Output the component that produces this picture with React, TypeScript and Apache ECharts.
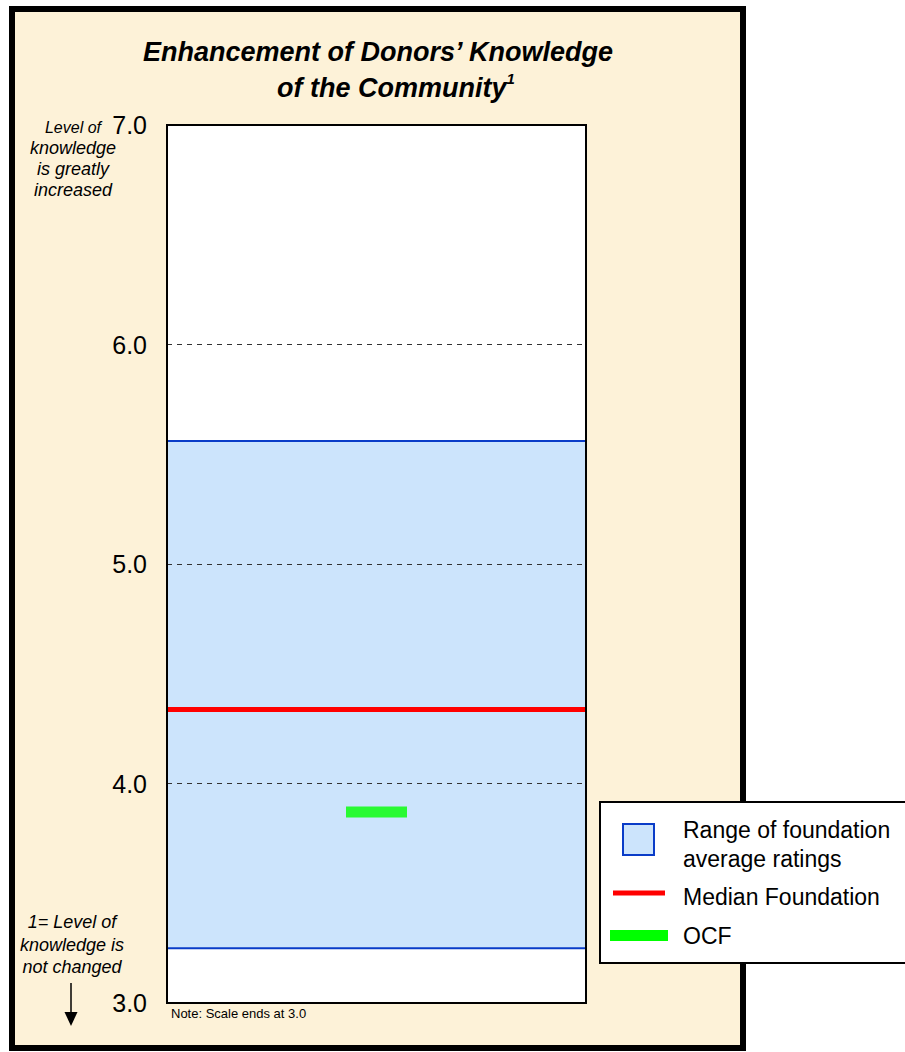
import React, { useEffect, useRef } from "react";
import * as echarts from "echarts";

const categories = ["Foundations"];
const yTickValues = [3, 4, 5, 6, 7];
const rangeLow = [3.25];
const rangeHigh = [5.56];
const medianValues = [4.34];
const ocfValues = [3.87];
const legendLabels = ["Range of foundation", "average ratings", "Median Foundation", "OCF"];
const titleLines = ["Enhancement of Donors\u2019 Knowledge", "of the Community"];
const topNote = ["knowledge", "is greatly", "increased"];
const bottomNote = ["1= Level of", "knowledge is", "not changed"];

const FONT = "Liberation Sans, Arial, Helvetica, sans-serif";

export default function App() {
  const ref = useRef<HTMLDivElement>(null);
  useEffect(() => {
    document.body.style.margin = "0";
    const chart = echarts.init(ref.current!, null, { renderer: "svg" });
    const gl = 167, gt = 125, gw = 419, gh = 878;
    const option: any = {
      animation: false,
      grid: { left: gl, top: gt, width: gw, height: gh, show: true, backgroundColor: "#ffffff", borderWidth: 0, z: 1 },
      xAxis: {
        type: "category",
        data: categories,
        axisLine: { show: false },
        axisTick: { show: false },
        axisLabel: { show: false },
        splitLine: { show: false },
      },
      yAxis: {
        type: "value",
        min: yTickValues[0],
        max: yTickValues[yTickValues.length - 1],
        interval: 1,
        z: 5,
        axisLine: { show: false },
        axisTick: { show: false },
        axisLabel: {
          margin: 20,
          fontSize: 25,
          color: "#000",
          fontFamily: FONT,
          formatter: (v: number) => v.toFixed(1),
        },
        splitLine: { show: true, lineStyle: { color: "#333", width: 1, type: [5, 5] } },
      },
      series: [
        {
          name: "OCF",
          type: "scatter",
          data: ocfValues,
          symbol: "rect",
          symbolSize: [61, 11],
          itemStyle: { color: "#00FF00" },
          z: 4,
          markArea: {
            silent: true,
            itemStyle: { color: "#CCE4FC", borderColor: "#0A3CC8", borderWidth: 2 },
            data: [[{ yAxis: rangeLow[0] }, { yAxis: rangeHigh[0] }]],
          },
          markLine: {
            silent: true,
            symbol: ["none", "none"],
            label: { show: false },
            lineStyle: { color: "#FF0000", width: 5, type: "solid" },
            data: [{ yAxis: medianValues[0] }],
          },
        },
      ],
      graphic: [
        {
          type: "rect",
          z: -10,
          shape: { x: 12, y: 9, width: 731, height: 1039 },
          style: { fill: "#FDF2D8", stroke: "#000", lineWidth: 6 },
        },
        {
          type: "rect",
          z: 50,
          shape: { x: gl, y: gt, width: gw, height: gh },
          style: { fill: "none", stroke: "#000", lineWidth: 2 },
        },
        {
          type: "text",
          z: 50,
          x: 378,
          y: 52,
          style: {
            text: titleLines[0],
            fill: "#000",
            font: `italic bold 27px ${FONT}`,
            align: "center",
            verticalAlign: "middle",
          },
        },
        {
          type: "text",
          z: 50,
          x: 396,
          y: 86,
          style: {
            text: `{a|${titleLines[1]}}{s|1}`,
            align: "center",
            verticalAlign: "middle",
            rich: {
              a: { fontSize: 27, fontWeight: "bold", fontStyle: "italic", fontFamily: FONT, fill: "#000", lineHeight: 30, verticalAlign: "bottom" },
              s: { fontSize: 15, fontWeight: "bold", fontStyle: "italic", fontFamily: FONT, fill: "#000", lineHeight: 30, verticalAlign: "top" },
            },
          },
        },
        {
          type: "text",
          z: 50,
          x: 101,
          y: 127,
          style: { text: "Level of", fill: "#000", font: `italic 16px ${FONT}`, align: "right", verticalAlign: "middle" },
        },
        ...topNote.map((t, i) => ({
          type: "text",
          z: 50,
          x: 73,
          y: 148 + i * 21,
          style: { text: t, fill: "#000", font: `italic 18px ${FONT}`, align: "center", verticalAlign: "middle" },
        })),
        ...bottomNote.map((t, i) => ({
          type: "text",
          z: 50,
          x: 72,
          y: 922 + i * 22.5,
          style: { text: t, fill: "#000", font: `italic 18px ${FONT}`, align: "center", verticalAlign: "middle" },
        })),
        {
          type: "line",
          z: 50,
          shape: { x1: 71, y1: 983, x2: 71, y2: 1014 },
          style: { stroke: "#000", lineWidth: 1.5 },
        },
        {
          type: "polygon",
          z: 50,
          shape: { points: [[64.5, 1012], [77.5, 1012], [71, 1026]] },
          style: { fill: "#000" },
        },
        {
          type: "text",
          z: 50,
          x: 171,
          y: 1013,
          style: { text: "Note: Scale ends at 3.0", fill: "#000", font: `13px ${FONT}`, align: "left", verticalAlign: "middle" },
        },
        {
          type: "group",
          z: 60,
          children: [
            {
              type: "rect",
              z: 60,
              shape: { x: 600, y: 802, width: 330, height: 161 },
              style: { fill: "#fff", stroke: "#000", lineWidth: 2 },
            },
            {
              type: "rect",
              z: 61,
              shape: { x: 623, y: 824, width: 31, height: 31 },
              style: { fill: "#CCE4FC", stroke: "#0A3CC8", lineWidth: 2 },
            },
            {
              type: "line",
              z: 61,
              shape: { x1: 613, y1: 893, x2: 665, y2: 893 },
              style: { stroke: "#FF0000", lineWidth: 5 },
            },
            {
              type: "rect",
              z: 61,
              shape: { x: 610, y: 930, width: 58, height: 11 },
              style: { fill: "#00FF00" },
            },
            ...legendLabels.map((t, i) => ({
              type: "text",
              z: 61,
              x: 683,
              y: [830, 859, 897, 936][i],
              style: { text: t, fill: "#000", font: `23px ${FONT}`, align: "left", verticalAlign: "middle" },
            })),
          ],
        },
      ],
    };
    chart.setOption(option);
    return () => chart.dispose();
  }, []);
  return <div ref={ref} style={{ width: 905, height: 1052 }} />;
}
